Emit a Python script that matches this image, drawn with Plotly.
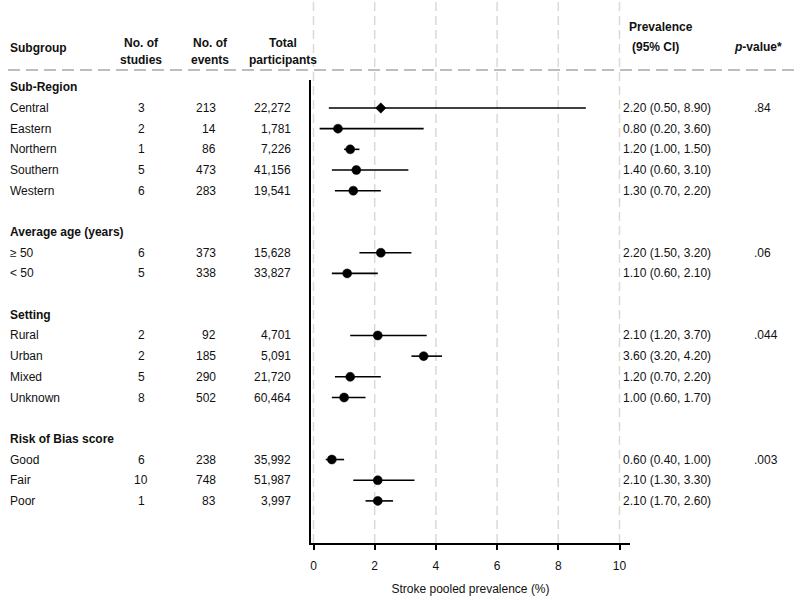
import plotly.graph_objects as go

# ---------------- data ----------------
groups = ["Sub-Region", "Average age (years)", "Setting", "Risk of Bias score"]
subgroups = [
    ["Central", "Eastern", "Northern", "Southern", "Western"],
    ["≥ 50", "< 50"],
    ["Rural", "Urban", "Mixed", "Unknown"],
    ["Good", "Fair", "Poor"],
]
n_studies = [[3, 2, 1, 5, 6], [6, 5], [2, 2, 5, 8], [6, 10, 1]]
n_events = [[213, 14, 86, 473, 283], [373, 338], [92, 185, 290, 502], [238, 748, 83]]
participants = [[22272, 1781, 7226, 41156, 19541], [15628, 33827],
                [4701, 5091, 21720, 60464], [35992, 51987, 3997]]
estimate = [[2.20, 0.80, 1.20, 1.40, 1.30], [2.20, 1.10], [2.10, 3.60, 1.20, 1.00], [0.60, 2.10, 2.10]]
ci_low = [[0.50, 0.20, 1.00, 0.60, 0.70], [1.50, 0.60], [1.20, 3.20, 0.70, 0.60], [0.40, 1.30, 1.70]]
ci_high = [[8.90, 3.60, 1.50, 3.10, 2.20], [3.20, 2.10], [3.70, 4.20, 2.20, 1.70], [1.00, 3.30, 2.60]]
p_values = [".84", ".06", ".044", ".003"]
x_ticks = [0, 2, 4, 6, 8, 10]
x_title = "Stroke pooled prevalence (%)"

# ---------------- layout helpers ----------------
W, H = 800, 601
def px(x):
    return x / W
def py(y):
    return 1 - y / H

FONT = "Liberation Sans, Arial, sans-serif"
TXT = "#111111"

# build rows
row_groups = []   # (row, name)
rows = []         # dicts per subgroup
r = 0
for gi, g in enumerate(groups):
    row_groups.append((r, g, gi))
    r += 1
    for si, s in enumerate(subgroups[gi]):
        rows.append(dict(row=r, name=s, studies=n_studies[gi][si], events=n_events[gi][si],
                         part=participants[gi][si], est=estimate[gi][si],
                         lo=ci_low[gi][si], hi=ci_high[gi][si], first=(si == 0), gi=gi))
        r += 1
    r += 1  # blank row

ys = [d["row"] for d in rows]
xs = [d["est"] for d in rows]
symbols = ["diamond" if d["name"] == "Central" else "circle" for d in rows]
sizes = [8 if d["name"] == "Central" else 9 for d in rows]

fig = go.Figure()
fig.add_trace(go.Scatter(
    x=xs, y=ys, mode="markers",
    marker=dict(symbol=symbols, size=sizes, color="#000000", opacity=1,
                line=dict(color="#000000", width=0.5)),
    error_x=dict(type="data", symmetric=False,
                 array=[d["hi"] - d["est"] for d in rows],
                 arrayminus=[d["est"] - d["lo"] for d in rows],
                 width=0, thickness=1.6, color="#000000"),
    showlegend=False, hoverinfo="skip",
))

ann = []
def add(text, x, y, yref="paper", anchor="left", bold=False, size=12):
    t = f"<b>{text}</b>" if bold else text
    ann.append(dict(text=t, x=px(x), xref="paper", y=y, yref=yref,
                    xanchor=anchor, yanchor="middle", showarrow=False,
                    font=dict(family=FONT, size=size, color=TXT)))

# headers
add("Subgroup", 8, py(48), bold=True)
add("No. of", 141, py(43), anchor="center", bold=True)
add("studies", 141, py(60), anchor="center", bold=True)
add("No. of", 210, py(43), anchor="center", bold=True)
add("events", 210, py(60), anchor="center", bold=True)
add("Total", 283, py(43), anchor="center", bold=True)
add("participants", 283, py(60), anchor="center", bold=True)
add("Prevalence", 627, py(27), bold=True)
add("(95% CI)", 630, py(47), bold=True)
add("<i>p</i>-value*", 732, py(47), bold=True)

# group headers
for (rw, g, gi) in row_groups:
    add(g, 8, rw, yref="y", bold=True)

# subgroup rows
for d in rows:
    add(d["name"], 8, d["row"], yref="y")
    add(str(d["studies"]), 141, d["row"], yref="y", anchor="center")
    add(f"{d['events']:,}", 218, d["row"], yref="y", anchor="right")
    add(f"{d['part']:,}", 293, d["row"], yref="y", anchor="right")
    add(f"{d['est']:.2f} ({d['lo']:.2f}, {d['hi']:.2f})", 621, d["row"], yref="y")
    if d["first"]:
        add(p_values[d["gi"]], 752, d["row"], yref="y")

# shapes: dashed grid lines and header separator
shapes = []
for t in x_ticks:
    shapes.append(dict(type="line", xref="x", yref="paper", x0=t, x1=t,
                       y0=py(543), y1=1, layer="below",
                       line=dict(color="#d9d9d9", width=1.5, dash="9px,5px")))
shapes.append(dict(type="line", xref="paper", yref="paper", x0=px(8), x1=1,
                   y0=py(70), y1=py(70), layer="below",
                   line=dict(color="#a8a8a8", width=1.5, dash="12px,6px")))

# axis geometry: 0 -> 313.5 px, 10 -> 619.5 px
x_left_px, x_right_px = 311, 630
ppu = 30.6
x0_val = (x_left_px - 313.5) / ppu
x1_val = (x_right_px - 313.5) / ppu
y_top_px, y_bot_px = 80, 543
row0_px, row_step = 87.3, 20.68

fig.update_layout(
    width=W, height=H,
    margin=dict(l=0, r=0, t=0, b=0),
    paper_bgcolor="white", plot_bgcolor="rgba(0,0,0,0)",
    annotations=ann, shapes=shapes,
    xaxis=dict(domain=[px(x_left_px), px(x_right_px)],
               range=[x0_val, x1_val],
               tickvals=x_ticks, ticktext=[str(t) for t in x_ticks],
               ticks="outside", ticklen=5, tickwidth=1.5, tickcolor="black",
               showline=True, linecolor="black", linewidth=1.5,
               showgrid=False, zeroline=False,
               tickfont=dict(family=FONT, size=12, color=TXT),
               ticklabelstandoff=6,
               title=dict(text=x_title, standoff=12,
                          font=dict(family=FONT, size=12, color=TXT))),
    yaxis=dict(domain=[py(y_bot_px), py(y_top_px)],
               range=[(y_bot_px - row0_px) / row_step, (y_top_px - row0_px) / row_step],
               showline=True, linecolor="black", linewidth=1.5,
               showticklabels=False, ticks="", showgrid=False, zeroline=False),
)

fig.write_html("out.html")
